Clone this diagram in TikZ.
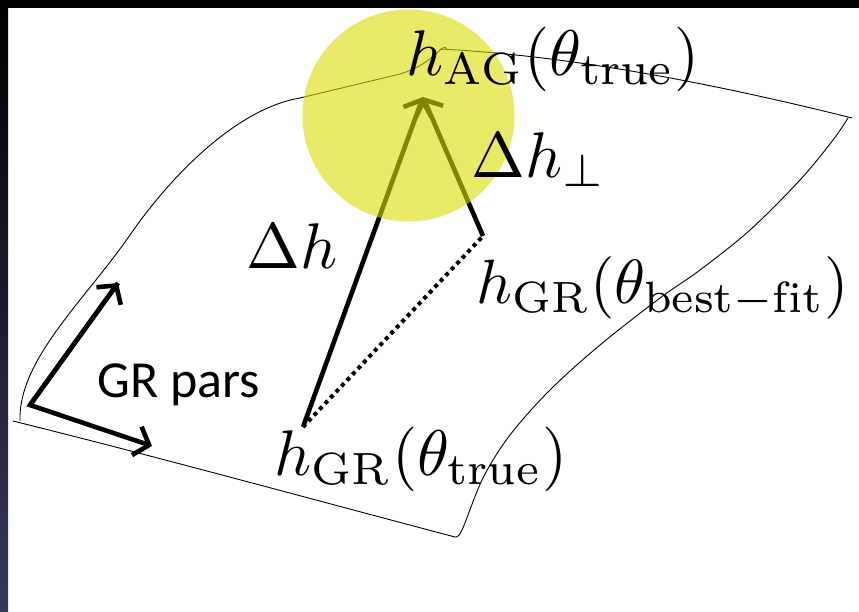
\RequirePackage{fix-cm}
\documentclass[tikz,border=0pt]{standalone}
\usepackage{fontspec}
\newfontfamily\carl{Carlito}
\usetikzlibrary{arrows.meta}
\definecolor{navy}{RGB}{56,56,92}
\definecolor{hl}{RGB}{220,220,5}
\begin{document}
\begin{tikzpicture}[x=1pt,y=-1pt,
  surf/.style={line width=0.9pt, black, line join=round},
  vec/.style={line width=4.6pt, -{Straight Barb[length=13pt,width=30pt]}},
  lbl/.style={inner sep=0pt, anchor=base west, scale=6.45, font=\fontsize{10}{12}\selectfont},
  sanslbl/.style={inner sep=0pt, anchor=base west, font=\carl\fontsize{52}{60}\selectfont}]
\useasboundingbox (0,0) rectangle (859,611);
\fill[white] (0,0) rectangle (859,611);
\fill[black] (0,0) rectangle (859,8);
\shade[top color=black, bottom color=navy] (0,0) rectangle (8,611);
% surface
\draw[surf] (20,421) .. controls (18,360) and (85,300) .. (130,235) .. controls (175,170) and (240,108) .. (300,98) -- (400,74) .. controls (420,68) and (432,58) .. (440,50);
\draw[surf] (440,50) -- (445,47) -- (447,50);
\draw[surf] (440,49) .. controls (560,55) and (700,80) .. (852,118);
\draw[surf] plot[smooth, tension=0.55] coordinates {(848,118) (833,140) (800,180) (750,230) (700,270) (660,298) (600,345) (550,390) (510,435) (483,478) (462,530) (455,537)};
\draw[surf] (455,537) .. controls (300,496) and (150,455) .. (13,421);
% vectors
\coordinate (gt) at (303,427);
\coordinate (ag) at (423,97);
\coordinate (bf) at (483,236);
\coordinate (o) at (30,405);
\coordinate (p1) at (118,283);
\coordinate (p2) at (152,446);
\draw[vec] (gt) -- (ag);
\draw[vec] (bf) -- (ag);
\draw[line width=4pt, dash pattern=on 4pt off 4pt] (gt) -- (bf);
\draw[vec, line join=miter] (p1) -- (o) -- (p2);
\draw[vec] (o) -- (p1);
% highlight
\fill[hl, opacity=0.6] (408.5,115.5) circle[radius=106];
% labels
\node[lbl] (tAG) at (405,75) {$h_{\mathrm{AG}}(\theta_{\mathrm{true}})$};
\node[lbl] (tDperp) at (470,177) {$\Delta h_{\perp}$};
\node[lbl] (tD) at (245,268) {$\Delta h$};
\node[lbl, scale=0.97] (tBF) at (475,303) {$h_{\mathrm{GR}}(\theta_{\mathrm{best-fit}})$};
\node[lbl] (tGT) at (273,475) {$h_{\mathrm{GR}}(\theta_{\mathrm{true}})$};
\node[sanslbl] (tGR) at (97,397) {GR pars};
\end{tikzpicture}
\end{document}
